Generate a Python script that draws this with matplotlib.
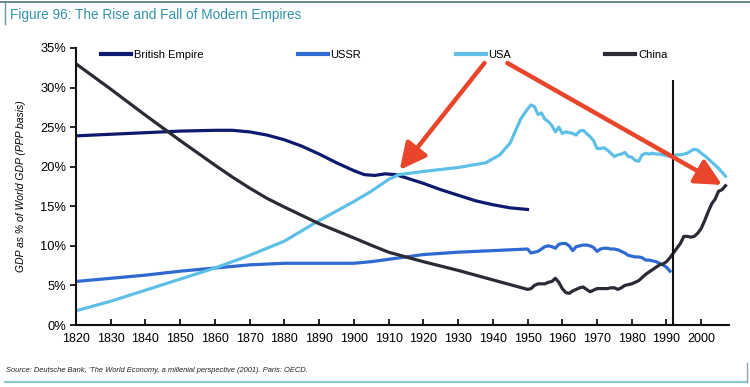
import matplotlib
matplotlib.use("Agg")
import matplotlib.pyplot as plt
from matplotlib.lines import Line2D

plt.rcParams['font.family'] = ['Liberation Sans', 'DejaVu Sans']

# ---------------- data ----------------
brit_years = [1820, 1830, 1840, 1850, 1860, 1865, 1870, 1875, 1880, 1885, 1890, 1895,
              1900, 1903, 1906, 1909, 1912, 1915, 1920, 1925, 1930, 1935, 1940, 1945, 1950]
brit_vals = [23.9, 24.1, 24.3, 24.5, 24.6, 24.6, 24.4, 24.0, 23.4, 22.6, 21.6, 20.5,
             19.5, 19.0, 18.9, 19.1, 19.0, 18.6, 17.9, 17.1, 16.4, 15.7, 15.2, 14.8, 14.6]

ussr_years = [1820, 1830, 1840, 1850, 1860, 1870, 1880, 1890, 1900, 1905, 1910, 1915,
              1920, 1930, 1940, 1950, 1951, 1952, 1953, 1954, 1955, 1956, 1957, 1958,
              1959, 1960, 1961, 1962, 1963, 1964, 1965, 1966, 1967, 1968, 1969, 1970,
              1971, 1972, 1973, 1974, 1975, 1976, 1977, 1978, 1979, 1980, 1981, 1982,
              1983, 1984, 1985, 1986, 1987, 1988, 1989, 1990, 1991]
ussr_vals = [5.5, 5.9, 6.3, 6.8, 7.2, 7.6, 7.8, 7.8, 7.8, 8.0, 8.3, 8.6,
             8.9, 9.2, 9.4, 9.6, 9.1, 9.2, 9.3, 9.6, 9.9, 10.0, 9.9, 9.7,
             10.2, 10.3, 10.3, 10.0, 9.4, 9.9, 10.0, 10.1, 10.1, 10.0, 9.8, 9.3,
             9.6, 9.7, 9.7, 9.6, 9.6, 9.5, 9.3, 9.1, 8.8, 8.7, 8.6, 8.6,
             8.5, 8.2, 8.2, 8.1, 8.0, 7.8, 7.6, 7.3, 6.8]

usa_years = [1820, 1830, 1840, 1850, 1860, 1870, 1880, 1890, 1900, 1905, 1910, 1913,
             1920, 1930, 1938, 1942, 1945, 1948, 1950, 1951, 1952, 1953, 1954, 1955,
             1956, 1957, 1958, 1959, 1960, 1961, 1962, 1963, 1964, 1965, 1966, 1967,
             1968, 1969, 1970, 1971, 1972, 1973, 1974, 1975, 1976, 1977, 1978, 1979,
             1980, 1981, 1982, 1983, 1984, 1985, 1986, 1987, 1988, 1989, 1990, 1991,
             1992, 1993, 1994, 1995, 1996, 1997, 1998, 1999, 2000, 2001, 2002, 2003,
             2004, 2005, 2006, 2007]
usa_vals = [1.8, 3.0, 4.4, 5.8, 7.2, 8.8, 10.6, 13.2, 15.6, 16.9, 18.4, 19.0,
            19.4, 19.9, 20.5, 21.5, 23.0, 26.0, 27.3, 27.8, 27.6, 26.6, 26.8, 26.0,
            25.7, 25.2, 24.4, 25.0, 24.2, 24.4, 24.3, 24.2, 24.0, 24.5, 24.6, 24.2,
            23.8, 23.3, 22.3, 22.3, 22.4, 22.1, 21.7, 21.3, 21.5, 21.6, 21.8, 21.3,
            21.2, 20.8, 20.7, 21.5, 21.7, 21.6, 21.7, 21.6, 21.6, 21.5, 21.4, 21.3,
            21.4, 21.5, 21.5, 21.6, 21.7, 22.0, 22.2, 22.1, 21.7, 21.4, 21.0, 20.6,
            20.2, 19.8, 19.3, 18.8]

china_years = [1820, 1830, 1840, 1850, 1860, 1865, 1870, 1875, 1880, 1890, 1900, 1906,
               1910, 1915, 1920, 1930, 1940, 1950, 1951, 1952, 1953, 1954, 1955, 1956,
               1957, 1958, 1959, 1960, 1961, 1962, 1963, 1964, 1965, 1966, 1967, 1968,
               1969, 1970, 1971, 1972, 1973, 1974, 1975, 1976, 1977, 1978, 1979, 1980,
               1981, 1982, 1983, 1984, 1985, 1986, 1987, 1988, 1989, 1990, 1991, 1992,
               1993, 1994, 1995, 1996, 1997, 1998, 1999, 2000, 2001, 2002, 2003, 2004,
               2005, 2006, 2007]
china_vals = [33.0, 29.8, 26.5, 23.3, 20.2, 18.7, 17.3, 16.0, 14.9, 12.8, 11.0, 9.9,
              9.2, 8.6, 8.0, 6.9, 5.7, 4.5, 4.6, 5.0, 5.2, 5.2, 5.2, 5.4,
              5.5, 5.9, 5.4, 4.6, 4.1, 4.0, 4.3, 4.5, 4.7, 4.8, 4.5, 4.2,
              4.4, 4.6, 4.6, 4.6, 4.6, 4.7, 4.7, 4.5, 4.7, 5.0, 5.1, 5.2,
              5.4, 5.6, 6.0, 6.4, 6.7, 7.0, 7.3, 7.6, 7.7, 8.0, 8.5, 9.1,
              9.7, 10.3, 11.2, 11.2, 11.1, 11.2, 11.6, 12.2, 13.2, 14.3, 15.3, 15.9,
              16.9, 17.1, 17.6]

series_names = ["British Empire", "USSR", "USA", "China"]
series_colors = ["#0d1a70", "#2f6ad3", "#5ec0e6", "#2b2b35"]

x_ticks = list(range(1820, 2001, 10))
y_ticks = [0, 5, 10, 15, 20, 25, 30, 35]
marker_year = 1992
marker_top = 31.0

# ---------------- figure ----------------
fig = plt.figure(figsize=(7.5, 3.87), dpi=100)
ax = fig.add_axes([76 / 750, 1 - 325 / 387, (729 - 76) / 750, (325 - 48) / 387])

data = [(brit_years, brit_vals), (ussr_years, ussr_vals),
        (usa_years, usa_vals), (china_years, china_vals)]
handles = []
for (xs, ys), name, col in zip(data, series_names, series_colors):
    h, = ax.plot(xs, ys, color=col, lw=2.3, label=name, solid_joinstyle='round')
    handles.append(h)

ax.vlines(marker_year, 0, marker_top, color="#111111", lw=1.5, zorder=5)

ax.set_xlim(1820, 2008)
ax.set_ylim(0, 35)
ax.set_xticks(x_ticks)
ax.set_yticks(y_ticks)
ax.set_yticklabels([f"{v}%" for v in y_ticks])
ax.tick_params(axis='x', direction='in', length=4, width=1.2, labelsize=9, pad=6)
ax.tick_params(axis='y', direction='out', length=4, width=1.2, labelsize=9.3, pad=3)
for s in ['top', 'right']:
    ax.spines[s].set_visible(False)
for s in ['left', 'bottom']:
    ax.spines[s].set_linewidth(1.5)
    ax.spines[s].set_color("#111111")

ax.set_ylabel("GDP as % of World GDP (PPP basis)", fontsize=7.5, style='italic', labelpad=10)

leg = ax.legend(handles=handles, ncol=4, loc='upper left',
                bbox_to_anchor=(0.038, 0.994), frameon=False, fontsize=8,
                handlelength=2.7, handletextpad=0.25, columnspacing=8.5,
                borderpad=0, borderaxespad=0)
for lh in leg.get_lines():
    lh.set_linewidth(3.0)

# red arrows (annotations)
arrow_col = "#e8452a"
ax.annotate("", xy=(1913.2, 19.6), xytext=(1937.6, 33.1),
            arrowprops=dict(arrowstyle="-|>,head_length=1.6,head_width=0.8",
                            color=arrow_col, lw=3.2, shrinkA=0, shrinkB=0), zorder=6)
ax.annotate("", xy=(2006.0, 17.7), xytext=(1944.2, 33.1),
            arrowprops=dict(arrowstyle="-|>,head_length=1.6,head_width=0.8",
                            color=arrow_col, lw=3.2, shrinkA=0, shrinkB=0), zorder=6)

# title, source, frame
fig.text(10 / 750, 1 - 15.5 / 387, "Figure 96: The Rise and Fall of Modern Empires",
         color="#3393ae", fontsize=9.85, va='center', ha='left')
fig.text(6 / 750, 1 - 371 / 387,
         "Source: Deutsche Bank, 'The World Economy, a millenial perspective (2001). Paris: OECD.",
         fontsize=5.45, style='italic', va='center', ha='left', color="#222222")

fig.add_artist(Line2D([0, 1], [1 - 2 / 387, 1 - 2 / 387], transform=fig.transFigure,
                      color="#4d7479", lw=1.2))
fig.add_artist(Line2D([5 / 750, 5 / 750], [1 - 2 / 387, 1 - 24 / 387], transform=fig.transFigure,
                      color="#6a9aa0", lw=1.0))
fig.add_artist(Line2D([5 / 750, 747 / 750], [1 - 382 / 387, 1 - 382 / 387], transform=fig.transFigure,
                      color="#8ccbd1", lw=1.6))
fig.add_artist(Line2D([747 / 750, 747 / 750], [1 - 363 / 387, 1 - 382 / 387], transform=fig.transFigure,
                      color="#8aa6b8", lw=1.0))

fig.savefig("out.png", dpi=100)
